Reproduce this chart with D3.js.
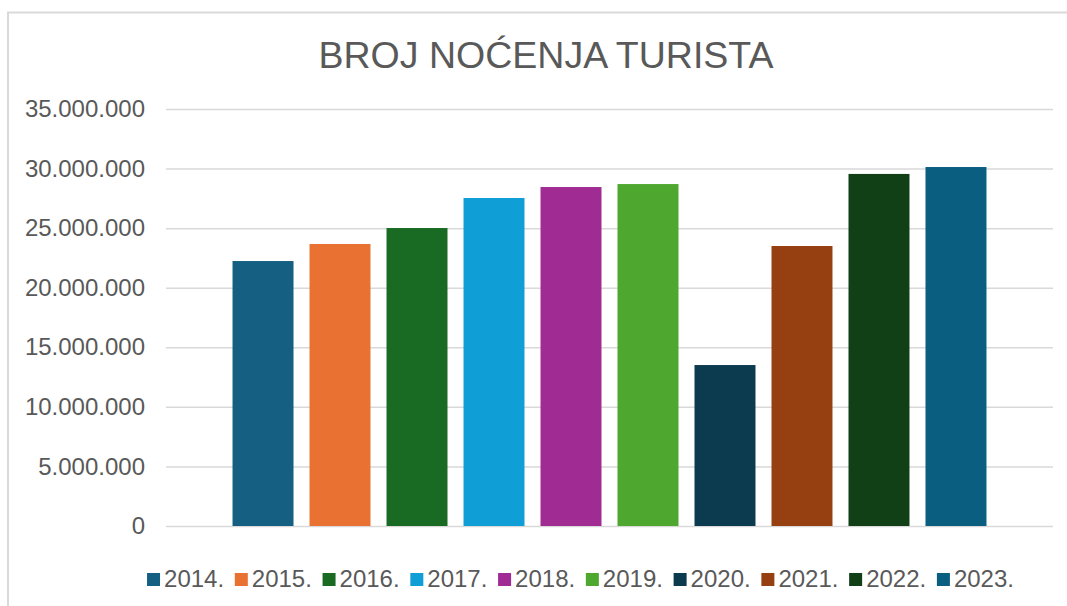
<!DOCTYPE html>
<html>
<head>
<meta charset="utf-8">
<script src="https://cdn.jsdelivr.net/npm/d3@7"></script>
<style>
  body { margin: 0; background: #fff; }
  svg { font-family: 'Liberation Sans', Arial, sans-serif; }
</style>
</head>
<body>
<svg id="chart" width="1067" height="606"></svg>
<script>
const title = 'BROJ NOĆENJA TURISTA';
const years = ['2014.', '2015.', '2016.', '2017.', '2018.', '2019.', '2020.', '2021.', '2022.', '2023.'];
const nights = [22240000, 23670000, 25010000, 27530000, 28450000, 28700000, 13510000, 23500000, 29550000, 30130000];
const colors = ['#156082', '#e97132', '#196b24', '#0f9ed5', '#a02b93', '#4ea72e', '#0c3a4f', '#963f11', '#124016', '#0a5e80'];
const yTicks = [0, 5000000, 10000000, 15000000, 20000000, 25000000, 30000000, 35000000];

const width = 1067;
const height = 606;
const plot = {left: 166, right: 1053, top: 109, bottom: 526};
const textColor = '#595959';

const svg = d3.select('#chart');

// chart frame (runs off the right and bottom edges)
svg.append('rect')
    .attr('x', 8)
    .attr('y', 12.5)
    .attr('width', width + 10)
    .attr('height', height + 10)
    .attr('fill', '#fff')
    .attr('stroke', '#d9d9d9')
    .attr('stroke-width', 2);

svg.append('text')
    .attr('x', 546)
    .attr('y', 68)
    .attr('text-anchor', 'middle')
    .attr('font-size', 37.5)
    .attr('fill', textColor)
    .text(title);

const y = d3.scaleLinear()
    .domain([0, 35000000])
    .range([plot.bottom, plot.top]);

const x = d3.scaleBand()
    .domain(years)
    .range([plot.left, plot.right])
    .paddingInner(0.208)
    .paddingOuter(0.864);

const fmt = (v) => d3.format(',')(v).replace(/,/g, '.');

const yAxis = d3.axisLeft(y)
    .tickValues(yTicks)
    .tickSize(-(plot.right - plot.left))
    .tickPadding(21)
    .tickFormat(fmt);

const ga = svg.append('g')
    .attr('transform', `translate(${plot.left},0)`)
    .call(yAxis);

ga.select('.domain').remove();
ga.selectAll('.tick line')
    .attr('stroke', '#d9d9d9')
    .attr('stroke-width', 1.5);
ga.selectAll('.tick text')
    .attr('font-size', 24)
    .attr('font-family', 'Liberation Sans, Arial, sans-serif')
    .attr('fill', textColor);

svg.append('g')
    .selectAll('rect')
    .data(nights)
    .enter()
    .append('rect')
    .attr('x', (d, i) => x(years[i]))
    .attr('y', (d) => y(d))
    .attr('width', x.bandwidth())
    .attr('height', (d) => y(0) - y(d))
    .attr('fill', (d, i) => colors[i]);

// legend
const legend = svg.append('g');
const items = legend.selectAll('g')
    .data(years)
    .enter()
    .append('g');

items.append('rect')
    .attr('y', 573)
    .attr('width', 13)
    .attr('height', 13)
    .attr('fill', (d, i) => colors[i]);

items.append('text')
    .attr('x', 17)
    .attr('y', 587)
    .attr('font-size', 24)
    .attr('fill', textColor)
    .text((d) => d);

const spacing = 10.7;
let offset = 0;
const positions = [];
items.each(function() {
  const w = 17 + d3.select(this).select('text').node().getComputedTextLength();
  positions.push(offset);
  offset += w + spacing;
});
const legendWidth = offset - spacing;
const legendStart = 580.5 - legendWidth / 2;

items.attr('transform', (d, i) => `translate(${legendStart + positions[i]},0)`);
</script>
</body>
</html>
